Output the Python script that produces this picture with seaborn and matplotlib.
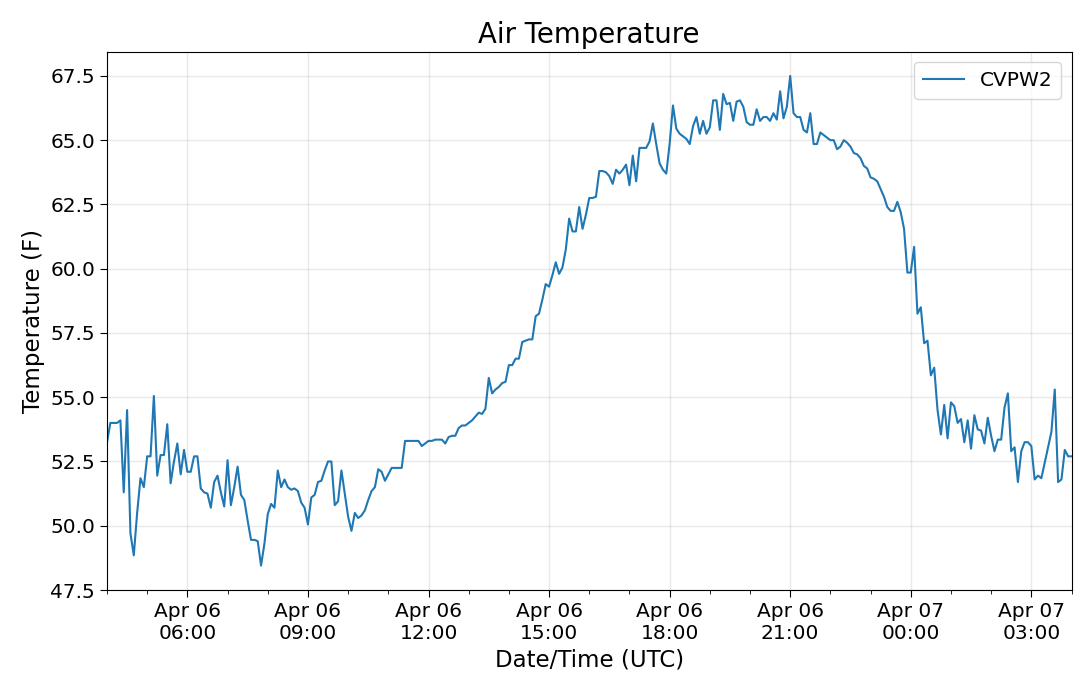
import matplotlib
matplotlib.use("Agg")
import matplotlib.pyplot as plt
import matplotlib.dates as mdates
import seaborn as sns
import pandas as pd
import numpy as np

# 5-minute air temperature readings (F), Apr 06 04:00 -> Apr 07 04:00 UTC
temp_04_08 = [53.25, 54.0, 54.0, 54.0, 54.1, 51.3, 54.5, 49.7, 48.85, 50.5, 51.85, 51.5,
              52.7, 52.7, 55.05, 51.95, 52.75, 52.75, 53.95, 51.65, 52.5, 53.2, 52.0, 52.95,
              52.1, 52.1, 52.7, 52.7, 51.45, 51.3, 51.25, 50.7, 51.7, 51.95, 51.3, 50.75,
              52.55, 50.8, 51.5, 52.3, 51.2, 51.0, 50.2, 49.45, 49.45, 49.4, 48.45, 49.3]
temp_08_12 = [50.45, 50.85, 50.7, 52.15, 51.5, 51.8, 51.5, 51.4, 51.45, 51.35, 50.9, 50.7,
              50.05, 51.1, 51.2, 51.7, 51.75, 52.15, 52.5, 52.5, 50.8, 50.95, 52.15, 51.25,
              50.35, 49.8, 50.5, 50.3, 50.4, 50.6, 51.0, 51.35, 51.5, 52.2, 52.1, 51.75,
              52.0, 52.25, 52.25, 52.25, 52.25, 53.3, 53.3, 53.3, 53.3, 53.3, 53.1, 53.2]
temp_12_16 = [53.3, 53.3, 53.35, 53.35, 53.35, 53.2, 53.45, 53.5, 53.5, 53.8, 53.9, 53.9,
              54.0, 54.1, 54.25, 54.4, 54.35, 54.55, 55.75, 55.15, 55.3, 55.4, 55.55, 55.6,
              56.25, 56.25, 56.5, 56.5, 57.15, 57.2, 57.25, 57.25, 58.15, 58.25, 58.8, 59.4,
              59.3, 59.75, 60.25, 59.8, 60.05, 60.75, 61.95, 61.45, 61.45, 62.4, 61.55, 62.1]
temp_16_20 = [62.75, 62.75, 62.8, 63.8, 63.8, 63.75, 63.6, 63.3, 63.85, 63.7, 63.85, 64.05,
              63.25, 64.4, 63.4, 64.7, 64.7, 64.7, 64.95, 65.65, 64.85, 64.1, 63.85, 63.7,
              64.85, 66.35, 65.45, 65.25, 65.15, 65.05, 64.85, 65.55, 65.9, 65.25, 65.75, 65.25,
              65.5, 66.55, 66.55, 65.4, 66.8, 66.4, 66.45, 65.75, 66.5, 66.55, 66.3, 65.7]
temp_20_00 = [65.6, 65.6, 66.2, 65.75, 65.9, 65.9, 65.75, 66.05, 65.8, 66.9, 65.85, 66.3,
              67.5, 66.05, 65.9, 65.9, 65.4, 65.3, 66.05, 64.85, 64.85, 65.3, 65.2, 65.1,
              65.0, 65.0, 64.65, 64.75, 65.0, 64.9, 64.75, 64.5, 64.45, 64.3, 64.0, 63.9,
              63.55, 63.5, 63.4, 63.1, 62.8, 62.4, 62.25, 62.25, 62.6, 62.2, 61.55, 59.85]
temp_00_04 = [59.85, 60.85, 58.25, 58.5, 57.1, 57.2, 55.85, 56.15, 54.5, 53.55, 54.7, 53.4,
              54.8, 54.65, 54.0, 54.15, 53.25, 54.1, 53.0, 54.3, 53.75, 53.7, 53.2, 54.2,
              53.5, 52.9, 53.35, 53.35, 54.6, 55.15, 52.9, 53.05, 51.7, 52.9, 53.25, 53.25,
              53.1, 51.8, 51.95, 51.85, 52.45, 53.05, 53.65, 55.3, 51.7, 51.8, 52.95, 52.7,
              52.7]

station = "CVPW2"
temps = temp_04_08 + temp_08_12 + temp_12_16 + temp_16_20 + temp_20_00 + temp_00_04
times = pd.date_range("2020-04-06 04:00", periods=len(temps), freq="5min")
df = pd.DataFrame({"time": times, station: temps})

plt.rcParams["font.family"] = ["DejaVu Sans"]
fig, ax = plt.subplots(figsize=(10.8, 6.8), dpi=100)
fig.subplots_adjust(left=107 / 1080, right=1071.5 / 1080, top=1 - 51.5 / 680, bottom=1 - 590 / 680)

sns.lineplot(data=df, x="time", y=station, ax=ax, color="#1f77b4", linewidth=1.5, label=station)

ax.set_xlim(times[0], times[-1])
ax.xaxis.set_major_locator(mdates.HourLocator(byhour=range(0, 24, 3)))
ax.xaxis.set_major_formatter(mdates.DateFormatter("%b %d\n%H:%M"))
ax.xaxis.set_minor_locator(mdates.HourLocator())
ax.set_yticks(np.arange(47.5, 68, 2.5))
ax.set_ylim(47.5, 68.45)
for lbl in ax.get_xticklabels():
    lbl.set_horizontalalignment("center")

ax.tick_params(axis="both", which="major", labelsize=14.5, length=5)
ax.tick_params(axis="x", which="minor", length=3)
ax.grid(True, which="major", color="#b0b0b0", alpha=0.28, linewidth=1)

ax.set_title("Air Temperature", fontsize=19.8)
ax.set_xlabel("Date/Time (UTC)", fontsize=16.5)
ax.set_ylabel("Temperature (F)", fontsize=16.5)
leg = ax.legend(loc="upper right", fontsize=14.5, handlelength=2, borderpad=0.45)
leg._legend_box.sep = 4

fig.savefig("out.png", dpi=100)
